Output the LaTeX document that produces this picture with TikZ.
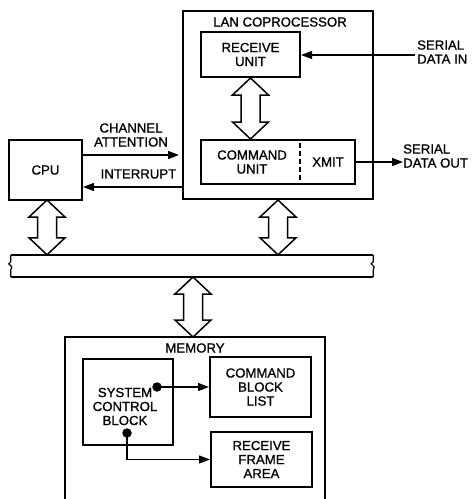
\documentclass[tikz,border=0pt]{standalone}
\usepackage{fontspec}
\setmainfont{Liberation Sans}[FakeBold=0.9]
\usetikzlibrary{arrows.meta,calc}
\tikzset{
  box/.style={draw, line width=2pt, rectangle, inner sep=0pt, align=center},
  lbl/.style={inner sep=0pt, align=center},
  lbll/.style={inner sep=0pt, align=left, anchor=west},
  arr/.style={line width=1.3pt, -{Triangle[length=11pt,width=8pt]}},
  dbl/.style={draw, line width=1.5pt, fill=white, line join=miter},
  dotnode/.style={circle, fill, inner sep=0pt, minimum size=9.5pt},
}
\newcommand\dblarrow[2]{%
  \draw[dbl] let \p1=(#1), \p2=(#2) in
    (\x1,\y1) -- (\x1-18pt,\y1-17pt) -- (\x1-9.5pt,\y1-17pt) -- (\x1-9.5pt,\y2+17pt)
    -- (\x1-18pt,\y2+17pt) -- (\x1,\y2) -- (\x1+18pt,\y2+17pt) -- (\x1+9.5pt,\y2+17pt)
    -- (\x1+9.5pt,\y1-17pt) -- (\x1+18pt,\y1-17pt) -- cycle;}
\begin{document}
\begin{tikzpicture}[x=1pt,y=-1pt, font=\fontsize{13.2}{14}\selectfont]
\useasboundingbox[fill=white] (0,0) rectangle (473,499);

% LAN coprocessor
\node[box, minimum width=190pt, minimum height=188pt] (lan) at (278,105) {};
\node[lbl] (lantitle) at (280,22) {LAN COPROCESSOR};
\node[box, minimum width=99pt, minimum height=45pt] (recv) at (250.5,54.5) {RECEIVE\\UNIT};
\node[box, minimum width=154pt, minimum height=44pt] (cmd) at (278,162) {};
\node[lbl] (cmdtxt) at (252,162) {COMMAND\\UNIT};
\node[lbl] (xmit) at (328,162) {XMIT};
\draw[line width=1.6pt, dash pattern=on 5pt off 3pt] (300,143) -- (300,183);

% serial lines
\node[lbll] (sdin) at (417,52) {SERIAL\\DATA IN};
\coordinate (sin) at (415,55);
\draw[arr] (sin) -- (sin -| recv.east);
\node[lbll] (sdout) at (403,156) {SERIAL\\DATA OUT};
\coordinate (sout) at (403,162);
\draw[arr] (cmd.east) -- (sout);

% CPU
\node[box, minimum width=73pt, minimum height=60pt] (cpu) at (45.5,170) {CPU};
\node[lbl] (chan) at (131,135) {CHANNEL\\ATTENTION};
\node[lbl] (intr) at (138.5,174) {INTERRUPT};
\draw[arr, shorten >=3pt] ([yshift=15pt]cpu.east) -- ([yshift=15pt]cpu.east -| lan.west);
\draw[arr] ([yshift=-17pt]cpu.east -| lan.west) -- ([yshift=-17pt]cpu.east);

% bus
\node[inner sep=0pt, minimum width=362pt, minimum height=22pt] (bus) at (192,266) {};
\draw[line width=1.5pt] (bus.north west) -- (bus.north east);
\draw[line width=1.5pt] (bus.south west) -- (bus.south east);
\draw[line width=1.2pt] (bus.north west) -- ++(0,7) -- ++(-2,2) -- ++(3,3) -- ++(-1,3) -- (bus.south west);
\draw[line width=1.2pt] (bus.north east) -- ++(0,7) -- ++(-2,2) -- ++(3,3) -- ++(-1,3) -- (bus.south east);

% memory
\coordinate (memtop) at (193,337);
\draw[line width=2pt] (65,500) -- (65,337) -- (325,337) -- (325,500);
\node[lbl] (memtitle) at (195,348) {MEMORY};
\node[box, minimum width=90pt, minimum height=86pt] (scb) at (128,402) {};
\node[lbl] (scbtxt) at (125,406.5) {SYSTEM\\CONTROL\\BLOCK};
\node[box, minimum width=101pt, minimum height=60pt] (cbl) at (260.5,387) {COMMAND\\BLOCK\\LIST};
\node[box, minimum width=101pt, minimum height=55pt] (rfa) at (261.5,459.5) {RECEIVE\\FRAME\\AREA};
\node[dotnode] (d1) at (157,387) {};
\node[dotnode] (d2) at (127,433) {};
\draw[arr] (d1.center) -- (cbl.west);
\draw[arr] (d2.center) |- (rfa.west);

% double arrows
\dblarrow{recv.south}{recv.south |- cmd.north}
\dblarrow{lan.south}{lan.south |- bus.north}
\coordinate (cpuarr) at (47,200);
\dblarrow{cpuarr}{cpuarr |- bus.north}
\coordinate (busm) at (193,277);
\dblarrow{busm}{memtop}
\end{tikzpicture}
\end{document}
